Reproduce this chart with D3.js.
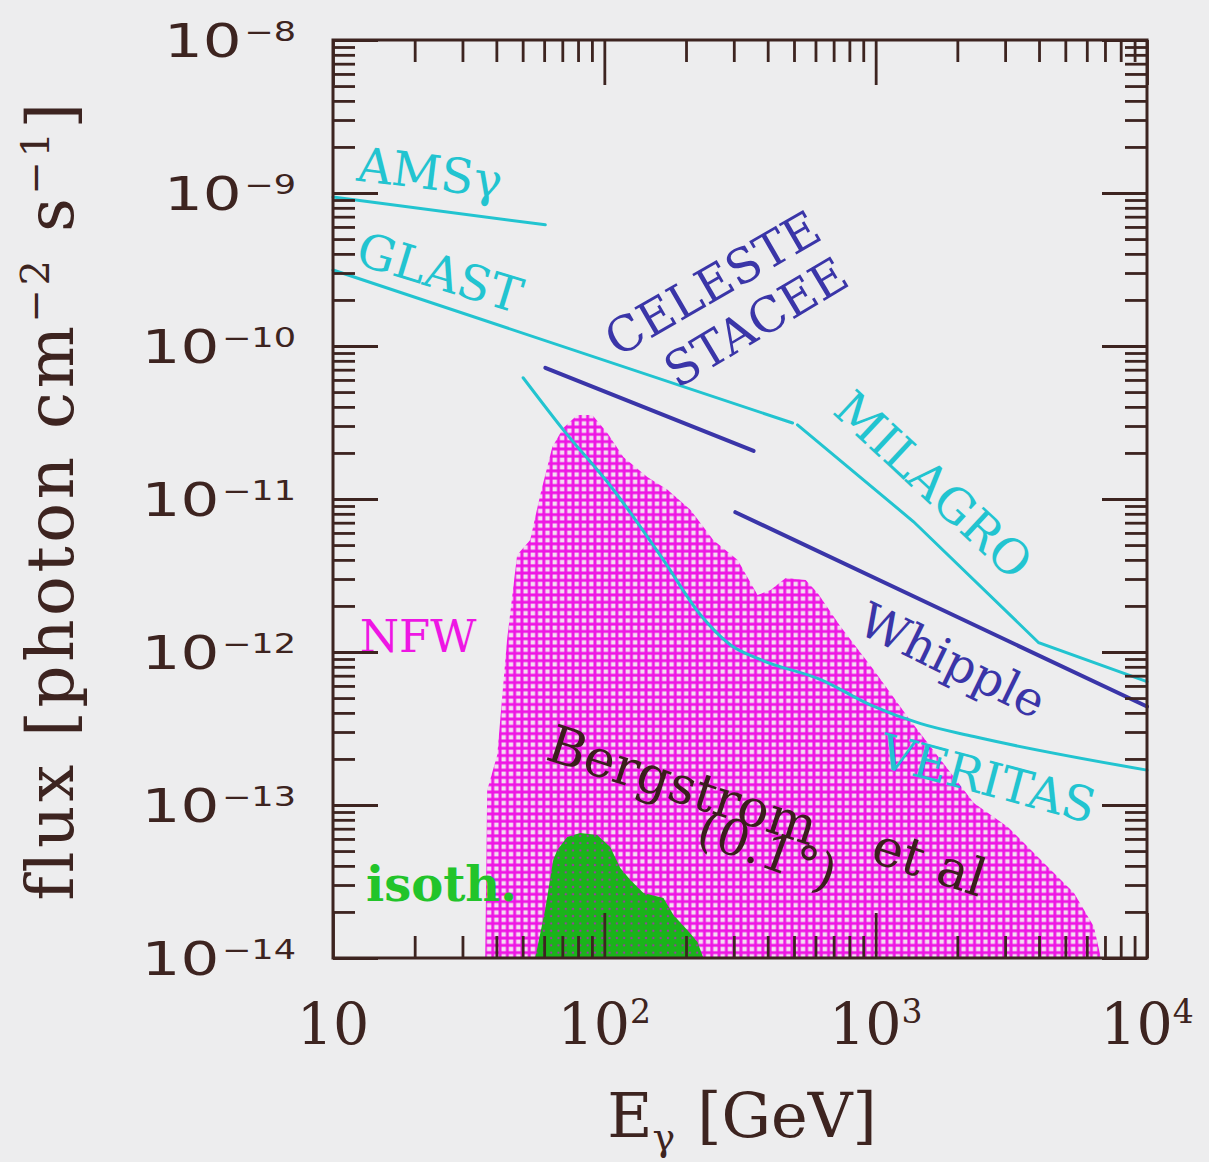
<!DOCTYPE html>
<html>
<head>
<meta charset="utf-8">
<script src="https://cdn.jsdelivr.net/npm/d3@7"></script>
<style>
  html, body { margin: 0; padding: 0; background: #ededee; }
  svg { display: block; }
</style>
</head>
<body>
<script>

// ---- data (energy in GeV, flux in photon cm^-2 s^-1) ----

var amsEnergy = [10, 60.6]
var amsFlux = [9.4e-10, 6.2e-10]

var glastEnergy = [10, 494]
var glastFlux = [3.14e-10, 3.14e-11]

var celesteEnergy = [60.6, 355]
var celesteFlux = [7.2e-11, 2.06e-11]

var milagroEnergy = [515, 1380, 3990, 10000]
var milagroFlux = [3.05e-11, 7.1e-12, 1.15e-12, 6.4e-13]

var whippleEnergy = [304, 10000]
var whippleFlux = [8.2e-12, 4.4e-13]

var veritasEnergy = [50.2, 70.6, 108, 165, 226, 292, 377, 627, 959, 1466, 2300, 10000]
var veritasFlux = [6.2e-11, 2.83e-11, 1.15e-11, 4.0e-12, 1.75e-12, 1.11e-12, 8.9e-13, 6.6e-13, 4.5e-13, 3.4e-13, 2.8e-13, 1.69e-13]

// NFW halo (Bergstrom et al, 0.1 deg) - upper edge of the hatched region
var nfwEnergy = [36.4, 37.0, 40.3, 43.8, 47.7, 53.3, 58.0, 64.3, 70.6, 79.5, 90.3, 102.6, 117.5, 144, 171, 208, 252, 310, 367, 410, 466, 552, 611, 743, 984, 1313, 1738, 2301, 3072, 4065, 5383, 6373, 6761]
var nfwFlux = [1e-14, 1.25e-13, 2.12e-13, 1.20e-12, 4.31e-12, 5.39e-12, 1.06e-11, 2.19e-11, 2.91e-11, 3.54e-11, 3.54e-11, 2.70e-11, 1.88e-11, 1.39e-11, 1.15e-11, 8.48e-12, 5.39e-12, 3.99e-12, 2.36e-12, 2.54e-12, 3.05e-12, 2.96e-12, 2.43e-12, 1.46e-12, 7.62e-13, 3.76e-13, 1.97e-13, 1.03e-13, 7.18e-14, 4.37e-14, 2.66e-14, 1.60e-14, 1e-14]

// isothermal halo
var isoEnergy = [55.6, 60.5, 64.8, 67.1, 73.0, 81.5, 94.1, 105.1, 114.5, 124.7, 139.3, 165.1, 179.8, 202.5, 220.4, 231.8]
var isoFlux = [1e-14, 2.06e-14, 4.37e-14, 5.08e-14, 6.18e-14, 6.56e-14, 6.37e-14, 5.31e-14, 3.87e-14, 3.24e-14, 2.66e-14, 2.47e-14, 1.91e-14, 1.52e-14, 1.27e-14, 1e-14]

var xTickValues = [10, 100, 1000, 10000]
var xTickExponents = ['', '2', '3', '4']
var yTickValues = [1e-8, 1e-9, 1e-10, 1e-11, 1e-12, 1e-13, 1e-14]
var yTickExponents = ['\u22128', '\u22129', '\u221210', '\u221211', '\u221212', '\u221213', '\u221214']

// labels placed in data coordinates
var labelText = ['AMS\u03b3', 'GLAST', 'CELESTE', 'STACEE', 'MILAGRO', 'Whipple', 'VERITAS', 'NFW', 'isoth.', 'Bergstrom', 'et al', '(0.1\u00b0)']
var labelEnergy = [22.8, 24.8, 250, 361, 1637, 1923, 2588, 20.6, 25.1, 195, 1580, 400]
var labelFlux = [1.37e-9, 3.05e-10, 2.58e-10, 1.44e-10, 1.24e-11, 8.87e-13, 1.50e-13, 1.27e-12, 3.05e-14, 1.36e-13, 4.3e-14, 5.1e-14]
var labelAngle = [7, 17, -30, -31, 43, 26, 15, 0, 0, 18, 18, 20]
var labelKind = ['cyan', 'cyan', 'blue', 'blue', 'cyan', 'blue', 'cyan', 'nfw', 'iso', 'ink', 'ink', 'ink']
var labelSize = [48, 48, 48, 48, 48, 48, 48, 45, 48, 52, 52, 50]

// ---- drawing ----

var chartWidth = 1209
var chartHeight = 1162
var plotLeft = 333, plotRight = 1147, plotTop = 40, plotBottom = 958

var ink = '#3d2420'
var colors = { cyan: '#22c4d0', blue: '#3a35a8', nfw: '#ee16e4', iso: '#22c42a', ink: '#3a1f1c' }

var svg = d3.select('body')
            .append('svg')
                .attr('width', chartWidth)
                .attr('height', chartHeight)

svg.append('rect')
        .attr('width', chartWidth)
        .attr('height', chartHeight)
        .attr('fill', '#ededee')

var x = d3.scaleLog().domain([10, 1e4]).range([plotLeft, plotRight])
var y = d3.scaleLog().domain([1e-14, 1e-8]).range([plotBottom, plotTop])

var defs = svg.append('defs')

var hatch = defs.append('pattern')
        .attr('id', 'hatch')
        .attr('patternUnits', 'userSpaceOnUse')
        .attr('width', 7.3)
        .attr('height', 7.3)
hatch.append('rect').attr('width', 7.3).attr('height', 7.3).attr('fill', '#f4dcf1')
hatch.append('line').attr('x1', 0).attr('x2', 7.3).attr('y1', 3.65).attr('y2', 3.65)
        .attr('stroke', colors.nfw).attr('stroke-width', 2.9)
hatch.append('line').attr('y1', 0).attr('y2', 7.3).attr('x1', 3.65).attr('x2', 3.65)
        .attr('stroke', colors.nfw).attr('stroke-width', 2.9)

var dots = defs.append('pattern')
        .attr('id', 'dots')
        .attr('patternUnits', 'userSpaceOnUse')
        .attr('width', 7.3)
        .attr('height', 7.3)
dots.append('rect').attr('width', 7.3).attr('height', 7.3).attr('fill', '#1ab41a')
dots.append('circle').attr('cx', 3.65).attr('cy', 3.65).attr('r', 1.2).attr('fill', '#9a3aa0')

function zip(es, fs) {
    return es.map(function(e, i) { return { e: e, f: fs[i] } })
}

var area = d3.area()
        .x(function(d) { return x(d.e) })
        .y0(y(1e-14))
        .y1(function(d) { return y(d.f) })

var line = d3.line()
        .x(function(d) { return x(d.e) })
        .y(function(d) { return y(d.f) })

var smooth = d3.line()
        .curve(d3.curveMonotoneX)
        .x(function(d) { return x(d.e) })
        .y(function(d) { return y(d.f) })

svg.append('path')
        .attr('d', area(zip(nfwEnergy, nfwFlux)))
        .attr('fill', 'url(#hatch)')

svg.append('path')
        .attr('d', area(zip(isoEnergy, isoFlux)))
        .attr('fill', 'url(#dots)')

var curves = [
    { e: amsEnergy, f: amsFlux, c: colors.cyan, w: 3, gen: line },
    { e: glastEnergy, f: glastFlux, c: colors.cyan, w: 3, gen: line },
    { e: milagroEnergy, f: milagroFlux, c: colors.cyan, w: 3, gen: line },
    { e: veritasEnergy, f: veritasFlux, c: colors.cyan, w: 3, gen: smooth },
    { e: celesteEnergy, f: celesteFlux, c: colors.blue, w: 4, gen: line },
    { e: whippleEnergy, f: whippleFlux, c: colors.blue, w: 4, gen: line }
]

curves.forEach(function(k) {
    svg.append('path')
            .attr('d', k.gen(zip(k.e, k.f)))
            .attr('fill', 'none')
            .attr('stroke', k.c)
            .attr('stroke-width', k.w)
            .attr('stroke-linecap', 'round')
})

// labels on the plot
labelText.forEach(function(t, i) {
    var px = x(labelEnergy[i])
    var py = y(labelFlux[i])
    svg.append('text')
            .attr('transform', 'translate(' + px + ',' + py + ') rotate(' + labelAngle[i] + ')')
            .attr('text-anchor', 'middle')
            .attr('dy', '0.36em')
            .attr('font-family', 'DejaVu Serif')
            .attr('font-size', labelSize[i])
            .attr('font-weight', labelKind[i] == 'iso' ? 'bold' : 'normal')
            .attr('fill', colors[labelKind[i]])
            .text(t)
})

// ---- axes: minor + major ticks pointing inwards on all four sides ----

function isDecade(v) {
    var l = Math.log10(v)
    return Math.abs(l - Math.round(l)) < 1e-6
}

var xMinor = x.ticks().filter(function(v) { return !isDecade(v) })
var yMinor = y.ticks().filter(function(v) { return !isDecade(v) })

function drawTicks(axis, tx, ty, values, size) {
    var g = svg.append('g')
            .attr('transform', 'translate(' + tx + ',' + ty + ')')
            .call(axis.tickValues(values).tickSize(-size).tickSizeOuter(0).tickFormat(''))
    g.select('.domain').remove()
    g.selectAll('.tick line').attr('stroke', ink).attr('stroke-width', 2.8)
}

drawTicks(d3.axisBottom(x), 0, plotBottom, xMinor, 22)
drawTicks(d3.axisBottom(x), 0, plotBottom, xTickValues, 45)
drawTicks(d3.axisTop(x), 0, plotTop, xMinor, 22)
drawTicks(d3.axisTop(x), 0, plotTop, xTickValues, 45)
drawTicks(d3.axisLeft(y), plotLeft, 0, yMinor, 22)
drawTicks(d3.axisLeft(y), plotLeft, 0, yTickValues, 45)
drawTicks(d3.axisRight(y), plotRight, 0, yMinor, 22)
drawTicks(d3.axisRight(y), plotRight, 0, yTickValues, 45)

svg.append('rect')
        .attr('x', plotLeft)
        .attr('y', plotTop)
        .attr('width', plotRight - plotLeft)
        .attr('height', plotBottom - plotTop)
        .attr('fill', 'none')
        .attr('stroke', ink)
        .attr('stroke-width', 3)

// x tick labels
xTickValues.forEach(function(v, i) {
    var t = svg.append('text')
            .attr('x', x(v))
            .attr('y', 1044)
            .attr('text-anchor', 'middle')
            .attr('font-family', 'DejaVu Serif')
            .attr('fill', ink)
    t.append('tspan').attr('font-size', 57).text('10')
    if (xTickExponents[i] != '') {
        t.append('tspan').attr('font-size', 33).attr('dy', -21).text(xTickExponents[i])
    }
})

// y tick labels (wide face: stretched horizontally)
yTickValues.forEach(function(v, i) {
    var t = svg.append('text')
            .attr('transform', 'translate(296,' + (y(v) + 17) + ') scale(1.3,1)')
            .attr('text-anchor', 'end')
            .attr('font-family', 'DejaVu Sans')
            .attr('fill', ink)
    t.append('tspan').attr('font-size', 47).text('10')
    t.append('tspan').attr('font-size', 27).attr('dx', 2).attr('dy', -16).text(yTickExponents[i])
})

// axis titles
var xt = svg.append('text')
        .attr('x', 742)
        .attr('y', 1137)
        .attr('text-anchor', 'middle')
        .attr('font-family', 'DejaVu Serif')
        .attr('font-size', 62)
        .attr('fill', ink)
xt.append('tspan').text('E')
xt.append('tspan').attr('font-size', 38).attr('dy', 13).text('\u03b3')
xt.append('tspan').attr('dy', -13).attr('dx', 22).text('[GeV]')

var yt = svg.append('text')
        .attr('transform', 'translate(73,500) rotate(-90)')
        .attr('text-anchor', 'middle')
        .attr('font-family', 'DejaVu Serif')
        .attr('font-size', 66)
        .attr('letter-spacing', 3.5)
        .attr('fill', ink)
yt.append('tspan').text('flux [photon cm')
yt.append('tspan').attr('font-size', 40).attr('dy', -24).text('\u22122')
yt.append('tspan').attr('dy', 24).text(' s')
yt.append('tspan').attr('font-size', 40).attr('dy', -24).text('\u22121')
yt.append('tspan').attr('dy', 24).text(']')

</script>
</body>
</html>
